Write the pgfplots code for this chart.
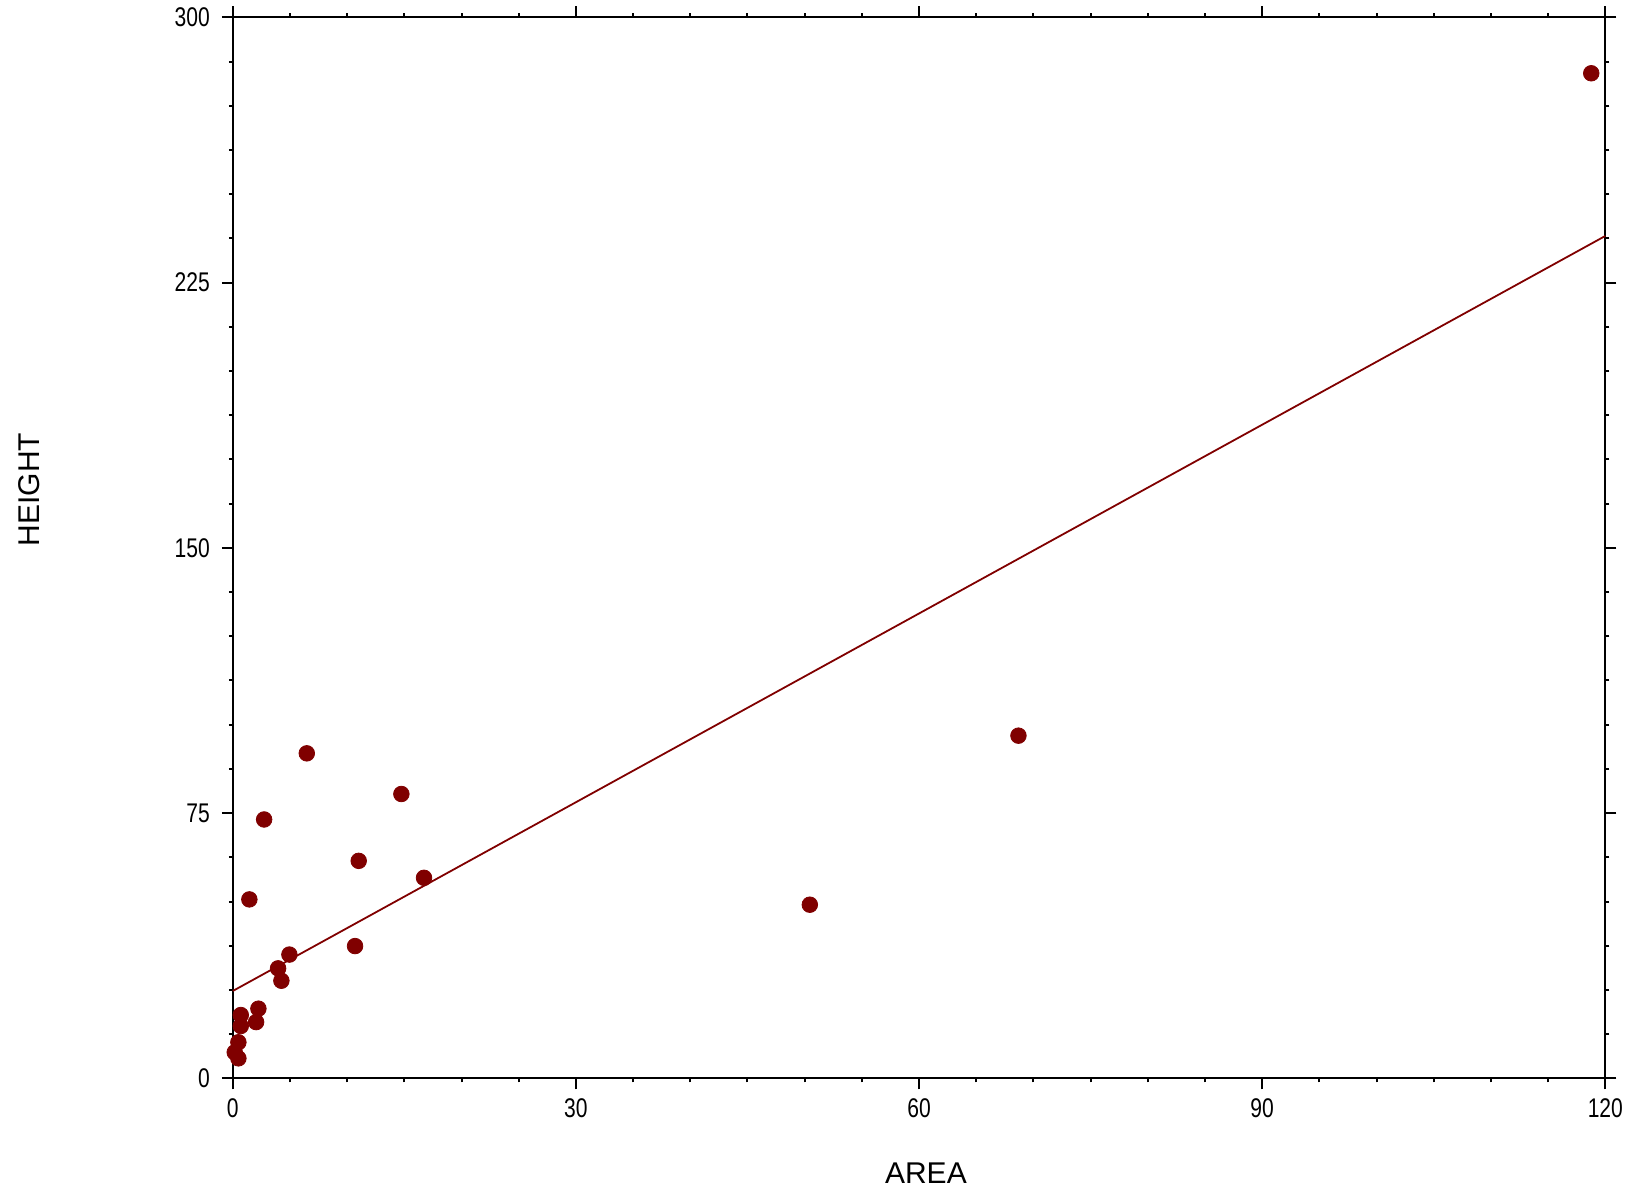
\documentclass[border=0pt]{standalone}
\usepackage{fontspec}
\setmainfont{Liberation Sans}
\usepackage{pgfplots}
\pgfplotsset{compat=1.18}
\usepackage{graphicx}
\definecolor{dred}{HTML}{800000}
\begin{document}
\begin{tikzpicture}
\begin{axis}[
  scale only axis,
  width=686.3pt, height=530.5pt,
  xmin=0, xmax=120, ymin=0, ymax=300,
  xtick={0,30,60,90,120}, ytick={0,75,150,225,300},
  minor tick num=5,
  tick align=outside,
  major tick length=5.5pt,
  minor tick length=2pt,
  axis line style={line width=1pt},
  every tick/.style={black, line width=1pt},
  /pgf/number format/assume math mode=true,
  tick label style={font=\fontsize{13.5}{13.5}\selectfont},
  xticklabel={\scalebox{0.78}[1]{\pgfmathprintnumber{\tick}}},
  yticklabel={\scalebox{0.78}[1]{\pgfmathprintnumber{\tick}}},
  xticklabel style={yshift=-1pt},
  yticklabel style={xshift=-2.5pt},
  xlabel={AREA}, ylabel={HEIGHT},
  label style={font=\fontsize{15}{15}\selectfont},
  xlabel style={at={(rel axis cs:0.505,0)}, anchor=center, yshift=-47.4pt},
  ylabel style={at={(rel axis cs:0,0.555)}, anchor=center, yshift=101.9pt},
  clip=false,
]
\addplot[dred, line width=0.9pt] coordinates {(0,24.7) (120,238.2)};
\addplot[only marks, mark=*, mark size=3.9pt, dred, mark options={draw=dred, fill=dred}] coordinates {
(118.77,284.2) (68.69,96.9) (50.45,49.1)
(6.47,91.9) (2.74,73.2) (14.74,80.4) (11.01,61.5) (16.72,56.7)
(1.45,50.6) (10.69,37.4) (4.95,35.0) (3.96,31.1) (4.25,27.6)
(2.24,19.7) (2.04,15.9) (0.70,17.9) (0.70,14.8) (0.49,10.2)
(0.17,7.35) (0.49,5.65)
};
\end{axis}
\pgfresetboundingbox
\path[use as bounding box] ([shift={(-116.4pt,-58.4pt)}]current axis.south west) rectangle ([shift={(15.35pt,8.7pt)}]current axis.north east);
\end{tikzpicture}
\end{document}
